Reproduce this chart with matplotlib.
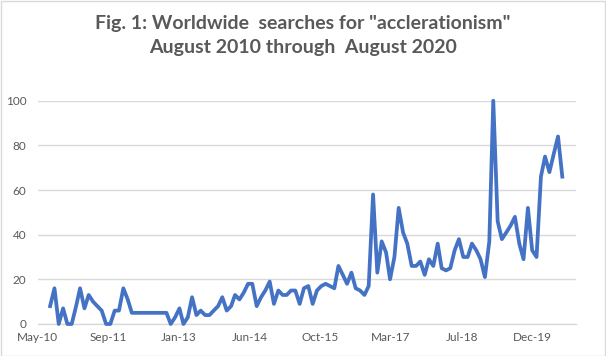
import matplotlib
matplotlib.use("Agg")
import matplotlib.pyplot as plt
import matplotlib.dates as mdates
import numpy as np
import pandas as pd
from matplotlib.patches import Rectangle

# ---- data ----
start_month = "2010-08-01"
values = [8, 16, 0, 7, 0, 0, 8, 16, 7, 13,
          10, 8, 6, 0, 0, 6, 6, 16, 11, 5,
          5, 5, 5, 5, 5, 5, 5, 5, 0, 3,
          7, 0, 3, 12, 4, 6, 4, 4, 6, 8,
          12, 6, 8, 13, 11, 14, 18, 18, 8, 12,
          15, 19, 9, 15, 13, 13, 15, 15, 9, 16,
          17, 9, 15, 17, 18, 17, 16, 26, 22, 18,
          23, 16, 15, 13, 17, 58, 23, 37, 32, 20,
          30, 52, 41, 36, 26, 26, 28, 22, 29, 26,
          36, 25, 24, 25, 33, 38, 30, 30, 36, 33,
          29, 21, 37, 100, 46, 38, 41, 44, 48, 36,
          29, 52, 33, 30, 66, 75, 68, 76, 84, 66]
dates = pd.date_range(start_month, periods=len(values), freq="MS")

tick_start = "2010-05-04"
tick_step_days = 500
n_ticks = 8
x_end = "2020-10-06"
y_ticks = [0, 20, 40, 60, 80, 100]

title = 'Fig. 1: Worldwide  searches for "acclerationism"\nAugust 2010 through  August 2020'

# ---- style ----
plt.rcParams['font.family'] = ['Lato', 'DejaVu Sans']
text_color = "#595959"
grid_color = "#d9d9d9"
line_color = "#4472C4"

fig = plt.figure(figsize=(6.06, 3.56), dpi=100)
ax = fig.add_axes([37.5/606, 1 - 324/356, (576 - 37.5)/606, (324 - 100.7)/356])

ax.plot(dates, values, color=line_color, linewidth=2.7, solid_joinstyle="round",
        clip_on=False, zorder=3)

tick_dates = pd.Timestamp(tick_start) + pd.to_timedelta(np.arange(n_ticks) * tick_step_days, unit="D")
ax.set_xlim(pd.Timestamp(tick_start), pd.Timestamp(x_end))
ax.set_xticks(tick_dates)
ax.xaxis.set_major_formatter(mdates.DateFormatter("%b-%y"))
ax.set_ylim(0, 100)
ax.set_yticks(y_ticks)

ax.grid(axis="y", color=grid_color, linewidth=1)
ax.set_axisbelow(True)
for s in ["top", "right", "left"]:
    ax.spines[s].set_visible(False)
ax.spines["bottom"].set_color(grid_color)
ax.spines["bottom"].set_linewidth(1)
ax.tick_params(axis="both", length=0, colors=text_color, labelsize=8.5)
ax.tick_params(axis="y", pad=8)
ax.tick_params(axis="x", pad=6)

fig.text(0.5, 1 - 35/356, title, ha="center", va="center", color=text_color,
         fontsize=14, fontweight="bold", linespacing=1.5)

fig.patches.append(Rectangle((0.5/606, 0.5/356), 1 - 1.5/606, 1 - 1.5/356,
                             transform=fig.transFigure, fill=False,
                             edgecolor=grid_color, linewidth=1))

fig.savefig("out.png", dpi=100)
